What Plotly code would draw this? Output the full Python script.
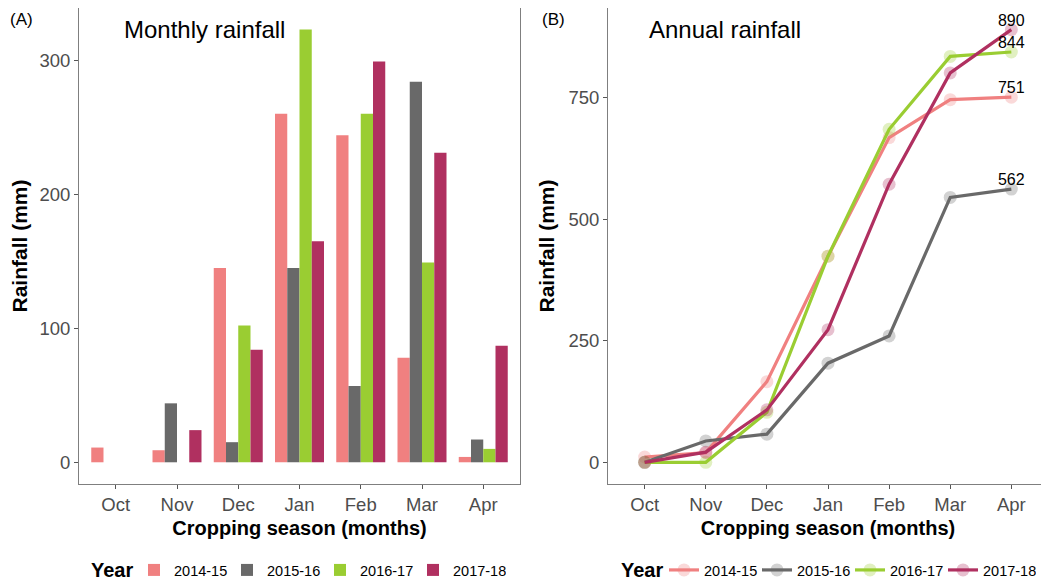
import plotly.graph_objects as go

months = ["Oct", "Nov", "Dec", "Jan", "Feb", "Mar", "Apr"]
years = ["2014-15", "2015-16", "2016-17", "2017-18"]
colors = ["#F08080", "#696969", "#9ACD32", "#B03060"]

# Monthly rainfall (mm)
monthly_2014_15 = [11, 9, 145, 260, 244, 78, 4]
monthly_2015_16 = [0, 44, 15, 145, 57, 284, 17]
monthly_2016_17 = [0, 0, 102, 323, 260, 149, 10]
monthly_2017_18 = [0, 24, 84, 165, 299, 231, 87]

# Cumulative (annual) rainfall (mm)
annual_2014_15 = [11, 20, 166, 424, 668, 746, 751]
annual_2015_16 = [0, 44, 58, 204, 260, 545, 562]
annual_2016_17 = [0, 0, 103, 424, 685, 835, 844]
annual_2017_18 = [0, 21, 108, 273, 572, 801, 890]

monthly = [monthly_2014_15, monthly_2015_16, monthly_2016_17, monthly_2017_18]
annual = [annual_2014_15, annual_2015_16, annual_2016_17, annual_2017_18]

FONT = "Liberation Sans"
# The page body has an 8px default margin; size the figure so it ends at the window edge
OFF = 8
W, H = 1049 - OFF, 582 - OFF


def px(x):
    return (x - OFF) / W


def py(y):
    return 1 - (y - OFF) / H


fig = go.Figure()

for yr, col, vals in zip(years, colors, monthly):
    fig.add_trace(go.Bar(
        x=months, y=vals, name=yr, marker=dict(color=col, line=dict(width=0)),
        xaxis="x", yaxis="y", legend="legend",
    ))

for yr, col, vals in zip(years, colors, annual):
    fig.add_trace(go.Scatter(
        x=months, y=vals, name=yr, mode="lines+markers",
        line=dict(color=col, width=3.2),
        marker=dict(color=col, size=13, opacity=0.3),
        xaxis="x2", yaxis="y2", legend="legend2",
    ))

# final-value labels
for yr, vals in zip(years, annual):
    fig.add_trace(go.Scatter(
        x=[months[-1]], y=[vals[-1]], mode="text", text=[str(vals[-1])],
        textposition="top center", showlegend=False, hoverinfo="skip",
        textfont=dict(size=16, color="black", family=FONT),
        xaxis="x2", yaxis="y2",
    ))

ydom = [py(484), min(1.0, py(7.5))]
axis_common = dict(
    showline=True, mirror=True, linecolor="#7f7f7f", linewidth=1,
    ticks="outside", ticklen=4, tickcolor="#555555",
    showgrid=False, zeroline=False,
    tickfont=dict(size=18.5, color="#4d4d4d", family=FONT),
)
xtitle = dict(text="<b>Cropping season (months)</b>",
              font=dict(size=20, color="black", family=FONT), standoff=6)
ytitle = dict(text="<b>Rainfall (mm)</b>",
              font=dict(size=21, color="black", family=FONT), standoff=8)

legend_common = dict(
    orientation="h", xanchor="left", y=py(570), yanchor="middle",
    bgcolor="rgba(0,0,0,0)",
    font=dict(size=14.5, color="black", family=FONT),
    itemwidth=30, traceorder="normal",
    entrywidth=48, entrywidthmode="pixels",
)

fig.update_layout(
    width=W, height=H,
    margin=dict(l=0, r=0, t=0, b=0, autoexpand=False),
    paper_bgcolor="white", plot_bgcolor="white",
    font=dict(family=FONT),
    barmode="group", bargap=0.2, bargroupgap=0,
    xaxis=dict(domain=[px(79), px(520)], anchor="y", type="category",
               range=[-0.6, 6.6], title=xtitle, **axis_common),
    yaxis=dict(domain=ydom, anchor="x", range=[-16.2, 339],
               tickvals=[0, 100, 200, 300], title=ytitle, **axis_common),
    xaxis2=dict(domain=[px(608), min(1.0, px(1048))], anchor="y2", type="category",
                range=[-0.6, 6.6], title=xtitle, **axis_common),
    yaxis2=dict(domain=ydom, anchor="x2", range=[-44.5, 934.5],
                tickvals=[0, 250, 500, 750], title=ytitle, **axis_common),
    legend=dict(x=px(134), **legend_common),
    legend2=dict(x=px(664), **legend_common),
    annotations=[
        dict(text="(A)", x=0, y=1, xref="paper", yref="paper",
             xanchor="left", yanchor="top", showarrow=False,
             font=dict(size=17, color="black", family=FONT)),
        dict(text="(B)", x=px(540), y=1, xref="paper", yref="paper",
             xanchor="left", yanchor="top", showarrow=False,
             font=dict(size=17, color="black", family=FONT)),
        dict(text="Monthly rainfall", x=px(122), y=py(29), xref="paper",
             yref="paper", xanchor="left", yanchor="middle", showarrow=False,
             font=dict(size=24, color="black", family=FONT)),
        dict(text="Annual rainfall", x=px(647), y=py(29), xref="paper",
             yref="paper", xanchor="left", yanchor="middle", showarrow=False,
             font=dict(size=24, color="black", family=FONT)),
        dict(text="<b>Year</b>", x=px(89), y=py(570), xref="paper",
             yref="paper", xanchor="left", yanchor="middle", showarrow=False,
             font=dict(size=20, color="black", family=FONT)),
        dict(text="<b>Year</b>", x=px(619), y=py(570), xref="paper",
             yref="paper", xanchor="left", yanchor="middle", showarrow=False,
             font=dict(size=20, color="black", family=FONT)),
    ],
)

fig.write_html("out.html")
